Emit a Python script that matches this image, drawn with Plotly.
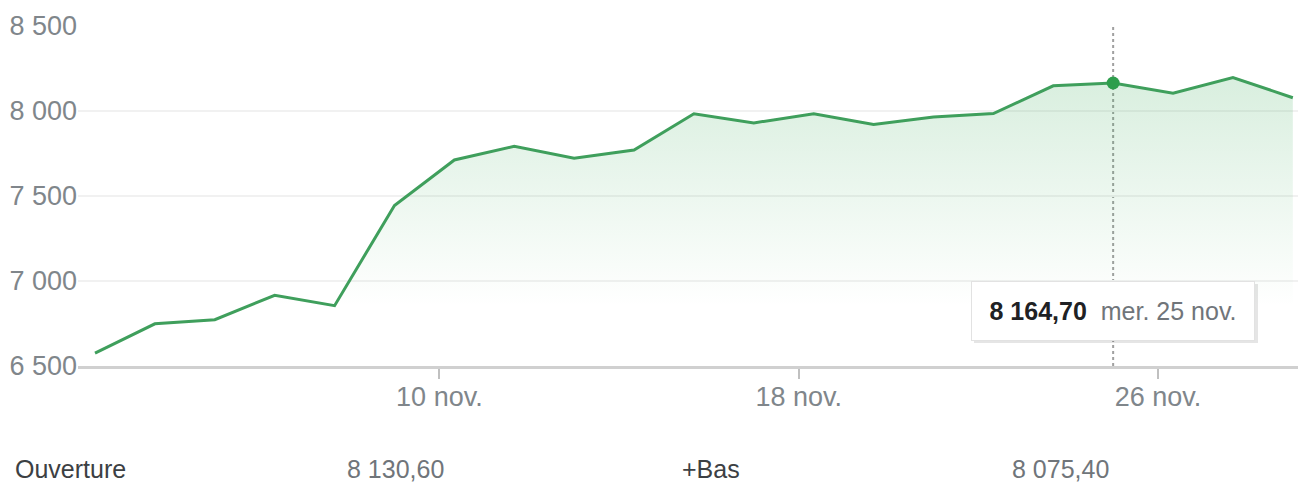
import plotly.graph_objects as go

# ---- data ----
days = [2, 3, 4, 5, 6, 9, 10, 11, 12, 13, 16, 17, 18, 19, 20, 23, 24, 25, 26, 27, 30]
weekdays = ["lun.", "mar.", "mer.", "jeu.", "ven."] * 5
values = [6576, 6748, 6772, 6916, 6855, 7444, 7712, 7792, 7722, 7770, 7984, 7930,
          7984, 7920, 7965, 7985, 8148, 8164.70, 8105, 8197, 8078]
tick_days = [10, 18, 26]
tick_labels = ["10 nov.", "18 nov.", "26 nov."]
y_ticks = [6500, 7000, 7500, 8000, 8500]
hover_day = 25
stats_labels = ["Ouverture", "+Bas"]
stats_values = ["8 130,60", "8 075,40"]

# ---- layout constants (page has an 8px body margin) ----
OFF = 8
W, H = 1306 - OFF, 483 - OFF
L, R, T, B = 78 - OFF, 0, 26 - OFF, H - (366 - OFF)
idx = list(range(len(values)))
hi = days.index(hover_day)


def fr(v):
    return f"{v:,.2f}".replace(",", " ").replace(".", ",")


def px_x(p):  # screen px -> paper
    return (p - OFF - L) / (W - L - R)


def px_y(p):
    return (H - B - (p - OFF)) / (H - T - B)


line_c = "#3f9f5c"
fig = go.Figure()
fig.add_trace(go.Scatter(
    x=idx, y=values, mode="lines",
    line=dict(color=line_c, width=3),
    fill="tozeroy",
    fillgradient=dict(type="vertical",
                      colorscale=[[0, "rgba(52,168,83,0)"], [1, "rgba(52,168,83,0.19)"]],
                      start=6850, stop=8200),
    hoverinfo="skip", showlegend=False))
fig.add_trace(go.Scatter(
    x=[idx[hi]], y=[values[hi]], mode="markers",
    marker=dict(color="#2e9e4c", size=13),
    hoverinfo="skip", showlegend=False))

# hover guide line
fig.add_shape(type="line", xref="x", yref="paper", x0=idx[hi], x1=idx[hi], y0=0, y1=1,
              line=dict(color="#a0a0a0", width=2, dash="3px,3px"), layer="below")
# tooltip shadow
fig.add_shape(type="rect", xref="paper", yref="paper",
              x0=px_x(974), x1=px_x(1258), y0=px_y(343), y1=px_y(284),
              fillcolor="rgba(0,0,0,0.10)", line=dict(width=0), layer="above")
fig.add_annotation(
    x=idx[hi], xref="x", y=px_y(311), yref="paper", yanchor="middle", xanchor="center",
    text=f"<b>{fr(values[hi])}</b>  <span style='color:#70757a'>{weekdays[hi]} {hover_day} nov.</span>",
    showarrow=False, bgcolor="white", bordercolor="#e2e2e2", borderwidth=1,
    width=280, height=56, font=dict(size=25, color="#202124"))

# bottom stats row
for lab, val, xl, xv in zip(stats_labels, stats_values, [13, 680], [345, 1010]):
    fig.add_annotation(x=px_x(xl), y=px_y(469), xref="paper", yref="paper",
                       xanchor="left", yanchor="middle", text=lab, showarrow=False,
                       font=dict(size=25, color="#3c4043"))
    fig.add_annotation(x=px_x(xv), y=px_y(469), xref="paper", yref="paper",
                       xanchor="left", yanchor="middle", text=val, showarrow=False,
                       font=dict(size=25, color="#70757a"))

fig.update_layout(
    width=W, height=H, margin=dict(l=L, r=R, t=T, b=B, pad=0),
    paper_bgcolor="white", plot_bgcolor="white",
    separators=", ",
    font=dict(family="Arial, Liberation Sans, sans-serif", color="#80868b", size=26),
    xaxis=dict(range=[-0.284, 20.22], showgrid=False, zeroline=False,
               tickvals=[days.index(d) - 0.25 for d in tick_days], ticktext=tick_labels,
               ticks="outside", ticklen=10, tickwidth=2, tickcolor="#c0c0c0",
               showline=True, linecolor="#d0d0d0", linewidth=3,
               ticklabelstandoff=-5,
               tickfont=dict(size=27, color="#80868b")),
    yaxis=dict(range=[6500, 8500], tickvals=y_ticks, tickformat=",d",
               showgrid=True, gridcolor="#f1f1f1", gridwidth=2, zeroline=False,
               showline=False, ticks="", tickfont=dict(size=27, color="#80868b")),
)
fig.write_html("out.html")
